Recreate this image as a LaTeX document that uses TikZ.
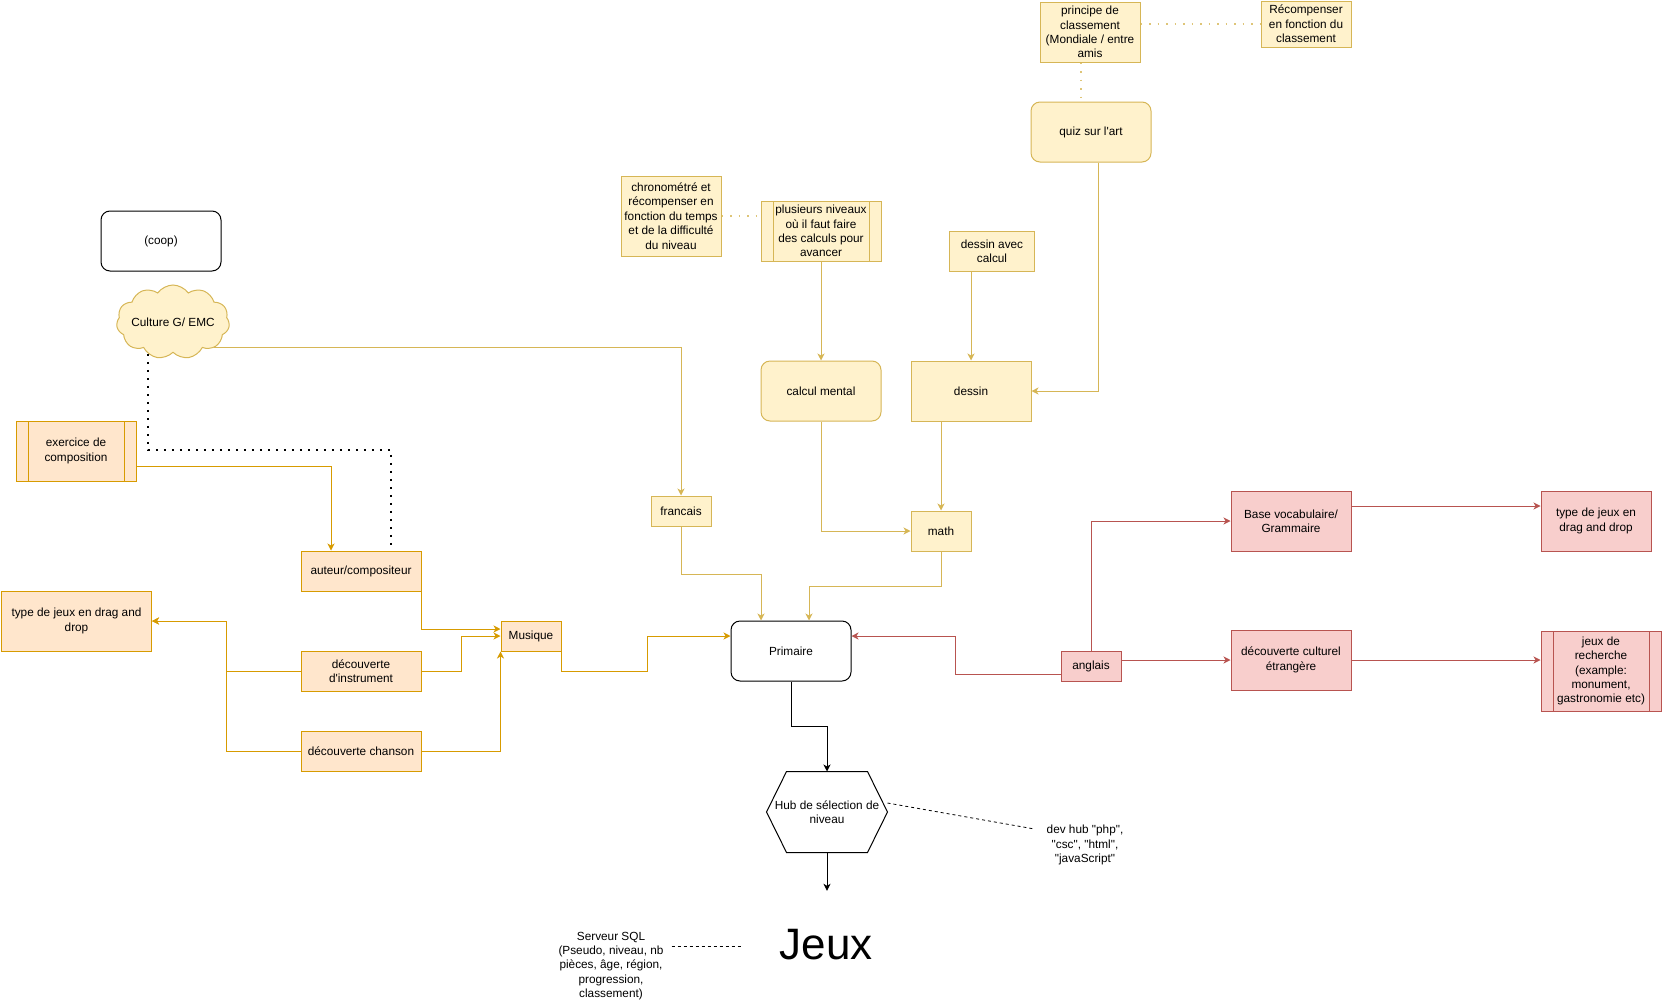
\documentclass[tikz,border=0pt]{standalone}
\usepackage{fontspec}
\setmainfont{Liberation Sans}[Ligatures=TeXOff]
\usetikzlibrary{shapes.symbols,arrows.meta,calc}
\definecolor{yfill}{HTML}{FFF2CC}
\definecolor{ystroke}{HTML}{D6B656}
\definecolor{ofill}{HTML}{FFE6CC}
\definecolor{ostroke}{HTML}{D79B00}
\definecolor{rfill}{HTML}{F8CECC}
\definecolor{rstroke}{HTML}{B85450}
\begin{document}
\begin{tikzpicture}[x=1pt,y=-1pt,
  txt/.style={font=\fontsize{11.8}{14.4}\selectfont, align=center, inner sep=1pt, text=black},
  box/.style 2 args={txt, rectangle, minimum width=#1pt, minimum height=#2pt, line width=1pt},
  ybox/.style={draw=ystroke, fill=yfill},
  obox/.style={draw=ostroke, fill=ofill},
  rbox/.style={draw=rstroke, fill=rfill},
  kbox/.style={draw=black, fill=white},
  rnd/.style={rounded corners=9pt},
  proc/.style={path picture={\draw[#1, line width=1pt]
      ([xshift=12pt]path picture bounding box.north west) -- ([xshift=12pt]path picture bounding box.south west)
      ([xshift=-12pt]path picture bounding box.north east) -- ([xshift=-12pt]path picture bounding box.south east);}},
  tip/.style={-{Stealth[length=7pt,width=7pt,inset=2pt]}},
  yline/.style={draw=ystroke, line width=1pt, tip},
  oline/.style={draw=ostroke, line width=1pt, tip},
  rline/.style={draw=rstroke, line width=1pt, tip},
  kline/.style={draw=black, line width=1pt, tip},
  ydot/.style={draw=ystroke!80, line width=1.5pt, dash pattern=on 1.5pt off 7pt},
  dotk/.style={draw=black, line width=2pt, dash pattern=on 2pt off 6pt},
  dashk/.style={draw=black, line width=0.8pt, dash pattern=on 3pt off 3pt}
]
\useasboundingbox (0,0) rectangle (1664,1004);

% ---- nodes ----
\node[box={120}{60}, kbox, rnd] (coop) at (161,241) {(coop)};
\node[cloud, cloud puffs=11, cloud puff arc=110, aspect=1.55, draw=ystroke, fill=yfill, line width=1pt,
      minimum width=113pt, minimum height=74pt, inner sep=0pt] (cloud) at (173,322) {};
\node[txt] (cloudtxt) at (cloud.center) {Culture G/ EMC};
\node[box={120}{60}, obox, proc=ostroke] (exo) at (76,451) {exercice de\\composition};
\node[box={120}{40}, obox] (auteur) at (361,571) {auteur/compositeur};
\node[box={150}{60}, obox] (typeL) at (76.5,621) {type de jeux en drag and\\drop};
\node[box={120}{40}, obox] (instr) at (361,671) {découverte\\d'instrument};
\node[box={120}{40}, obox] (chanson) at (361,751) {découverte chanson};
\node[box={60}{30}, obox] (musique) at (531,636) {Musique};

\node[box={60}{30}, ybox] (francais) at (681,511) {francais};
\node[box={100}{80}, ybox] (chrono) at (671,216) {chronométré et\\récompenser en\\fonction du temps\\et de la difficulté\\du niveau};
\node[box={120}{60}, ybox, proc=ystroke] (plus) at (821,231) {plusieurs niveaux\\où il faut faire\\des calculs pour\\avancer};
\node[box={120}{60}, ybox, rnd] (calc) at (821,391) {calcul mental};
\node[box={85}{40}, ybox] (dac) at (992,251) {dessin avec\\calcul};
\node[box={120}{60}, ybox] (dessin) at (971,391) {dessin};
\node[box={60}{40}, ybox] (math) at (941,531) {math};
\node[box={100}{60}, ybox] (principe) at (1090,32) {principe de\\classement\\(Mondiale / entre\\amis};
\node[box={90}{46}, ybox] (recomp) at (1306,24) {Récompenser\\en fonction du\\classement};
\node[box={120}{60}, ybox, rnd] (quiz) at (1091,132) {quiz sur l'art};

\node[box={120}{60}, kbox, rnd] (prim) at (791,651) {Primaire};
\node[box={120}{80}] (hub) at (827,812) {Hub de sélection de\\niveau};
\draw[line width=1pt] (hub.west) -- ([xshift=20pt]hub.north west) -- ([xshift=-20pt]hub.north east)
  -- (hub.east) -- ([xshift=-20pt]hub.south east) -- ([xshift=20pt]hub.south west) -- cycle;
\node[txt, font=\fontsize{44}{52}\selectfont, minimum width=170pt, minimum height=108pt] (jeux) at (826,945) {Jeux};
\node[box={100}{50}] (dev) at (1085,845) {dev hub "php",\\"csc", "html",\\"javaScript"};
\node[box={120}{70}] (sql) at (611,966) {Serveur SQL\\(Pseudo, niveau, nb\\pièces, âge, région,\\progression,\\classement)};

\node[box={60}{30}, rbox] (anglais) at (1091,666) {anglais};
\node[box={120}{60}, rbox] (base) at (1291,521) {Base vocabulaire/\\Grammaire};
\node[box={120}{60}, rbox] (decouv) at (1291,660) {découverte culturel\\étrangère};
\node[box={110}{60}, rbox] (typeR) at (1596,521) {type de jeux en\\drag and drop};
\node[box={120}{80}, rbox, proc=rstroke] (rech) at (1601,671) {jeux de\\recherche\\(example:\\monument,\\gastronomie etc)};

% ---- connectors ----
\coordinate (dk) at (391,450);
\draw[yline] (cloud.-32) -| (francais.north);
\draw[dotk] (cloud.-128) |- (dk) -- ([xshift=30pt]auteur.north);

\draw[oline] ([yshift=-15pt]exo.east) -| ([xshift=-30pt]auteur.north);
\draw[oline] (auteur.south east) |- ([yshift=7pt]musique.west);
\draw[oline] (instr.east) -- ++(40,0) |- (musique.west);
\draw[oline] (chanson.east) -| (musique.south west);
\draw[oline] (instr.west) -- ++(-74,0) |- (typeL.east);
\draw[oline] (chanson.west) -- ++(-74,0) |- (typeL.east);
\draw[oline] (musique.south east) -- ++(0,20) -- ++(86,0) |- ([yshift=15pt]prim.west);

\draw[yline] (plus) -- (calc);
\draw[yline] (dessin.north |- dac.south) -- (dessin.north);
\draw[yline] ([xshift=7pt]quiz.south) |- (dessin.east);
\draw[yline] (calc.south) |- (math.west);
\draw[yline] (math.north |- dessin.south) -- (math.north);
\draw[yline] (francais.south) -- ++(0,48) -| ([xshift=-30pt]prim.north);
\draw[yline] (math.south) -- ++(0,35) -| ([xshift=18pt]prim.north);

\draw[ydot] (chrono.east) -- (chrono.east -| plus.west);
\draw[ydot] (principe.east |- recomp.west) -- (recomp.west);
\draw[ydot] ([xshift=-9pt]principe.south) -- ([xshift=-10pt,yshift=3pt]quiz.north);

\draw[rline] ([yshift=-8pt]anglais.west) -- ++(-105,0) |- ([yshift=15pt]prim.east);
\draw[rline] (anglais.north) |- (base.west);
\draw[rline] (anglais.east |- decouv.west) -- (decouv.west);
\draw[rline] ([yshift=15pt]base.east) -- ([yshift=15pt]base.east -| typeR.west);
\draw[rline] (decouv.east) -- (decouv.east -| rech.west);

\draw[kline] (prim.south) -- ++(0,45) -| (hub.north);
\draw[kline] (hub.south) -- (hub.south |- jeux.north);
\draw[dashk] ([yshift=9pt]hub.east) -- ([yshift=16pt]dev.west);
\draw[dashk] ([yshift=20pt]sql.east) -- ([yshift=20pt]sql.east -| jeux.west);
\end{tikzpicture}
\end{document}
